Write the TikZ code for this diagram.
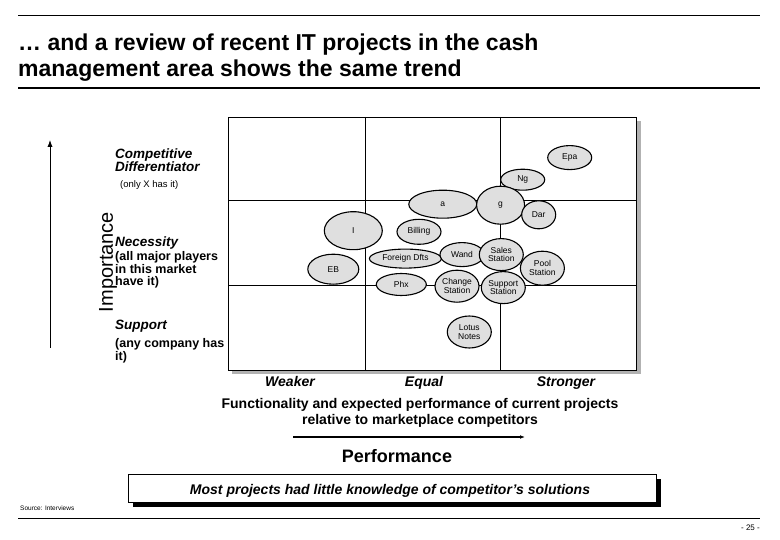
\documentclass[tikz,border=0pt]{standalone}
\usepackage{fontspec}
\setmainfont{Liberation Sans}
\usetikzlibrary{shapes.geometric,arrows.meta}
\begin{document}
\begin{tikzpicture}[x=1pt,y=-1pt,
  proj/.style={ellipse,draw,fill=gray!25,line width=1.1pt,inner sep=0pt,font=\fontsize{8.5}{8.5}\selectfont,align=center},
  lab/.style={font=\fontsize{13.5}{13.5}\selectfont\bfseries\itshape,anchor=west,align=left,inner sep=0pt},
  small/.style={font=\fontsize{12.5}{12.5}\selectfont\bfseries,anchor=west,align=left,inner sep=0pt},
  axl/.style={font=\fontsize{14}{14}\selectfont\bfseries\itshape,anchor=base}]
\useasboundingbox (0,0) rectangle (780,540);
\draw[line width=0.6pt] (18,15) -- (760,15);
\node[anchor=north west,align=left,font=\fontsize{23}{26}\selectfont\bfseries,inner sep=0pt] (title) at (18,34) {… and a review of recent IT projects in the cash\\management area shows the same trend};
\draw[line width=2pt] (18,88) -- (760,88);
% matrix
\fill[gray!60] (232,121) rectangle (641,374);
\draw[fill=white,line width=0.8pt] (228.5,117) rectangle (636.7,370);
\draw[line width=1pt] (365,117) -- (365,370) (500.6,117) -- (500.6,370) (228.5,201) -- (636.7,201) (228.5,286) -- (636.7,286);
\node[proj,minimum width=44,minimum height=24] (epa) at (569.7,157.6) {Epa};
\node[proj,minimum width=44,minimum height=21] (ng) at (522.7,179.7) {Ng};
\node[proj,minimum width=68,minimum height=28] (a) at (442.8,204.2) {a};
\node[proj,minimum width=48,minimum height=38] (g) at (500.6,205.2) {g};
\node[proj,minimum width=34,minimum height=28] (dar) at (538.7,214.8) {Dar};
\node[proj,minimum width=58,minimum height=38] (i) at (353.3,230.7) {I};
\node[proj,minimum width=44,minimum height=25] (bill) at (419,231.8) {Billing};
\node[proj,minimum width=72,minimum height=19] (fd) at (405.4,258.6) {Foreign Dfts};
\node[proj,minimum width=44,minimum height=24] (wand) at (462,254.6) {Wand};
\node[proj,minimum width=44,minimum height=32] (sales) at (501.3,254.6) {Sales\\Station};
\node[proj,minimum width=44,minimum height=34] (pool) at (542.4,268.2) {Pool\\Station};
\node[proj,minimum width=51,minimum height=30] (eb) at (333.3,269.2) {EB};
\node[proj,minimum width=50,minimum height=22] (phx) at (401.3,284.5) {Phx};
\node[proj,minimum width=44,minimum height=32] (chg) at (457,286.2) {Change\\Station};
\node[proj,minimum width=44,minimum height=32] (sup) at (503.3,287.6) {Support\\Station};
\node[proj,minimum width=44,minimum height=32] (lotus) at (469.3,332) {Lotus\\Notes};
% left labels
\node[lab] (cd) at (115,160) {Competitive\\Differentiator};
\node[font=\fontsize{9.5}{10}\selectfont,anchor=west,inner sep=0pt] (only) at (120,185) {(only X has it)};
\node[lab] (nec) at (115,243) {Necessity};
\node[small] (allm) at (115,270) {(all major players\\in this market\\have it)};
\node[lab] (supl) at (115,326) {Support};
\node[small] (any) at (115,351) {(any company has\\it)};
\node[rotate=90,font=\fontsize{20}{20}\selectfont] (imp) at (108,262) {Importance};
\coordinate (ia) at (50,348);
\coordinate (ib) at (50,140);
\draw[line width=1pt,-{Latex[length=7pt]}] (ia) -- (ib);
% bottom labels
\node[axl] (weak) at (290,386) {Weaker};
\node[axl] (eq) at (424,386) {Equal};
\node[axl] (str) at (566,386) {Stronger};
\node[font=\fontsize{14}{16}\selectfont\bfseries,align=center] (func) at (420,413) {Functionality and expected performance of current projects\\relative to marketplace competitors};
\coordinate (pa) at (293,437);
\coordinate (pb) at (525,437);
\draw[line width=1.2pt,-{Latex[length=5pt]}] (pa) -- (pb);
\node[font=\fontsize{18}{18}\selectfont\bfseries] (perf) at (397,456) {Performance};
\fill[black] (133,479) rectangle (661,507);
\draw[fill=white,line width=1pt] (128,474) rectangle (656,502);
\node[font=\fontsize{14}{14}\selectfont\bfseries\itshape] (most) at (390,491) {Most projects had little knowledge of competitor’s solutions};
\node[font=\fontsize{6.5}{7}\selectfont,anchor=west,inner sep=0pt] (src) at (20,508) {Source: Interviews};
\draw[line width=0.8pt] (18,518) -- (760,518);
\node[font=\fontsize{8}{9}\selectfont,anchor=east,inner sep=0pt] (pg) at (760,528) {- 25 -};
\end{tikzpicture}
\end{document}
